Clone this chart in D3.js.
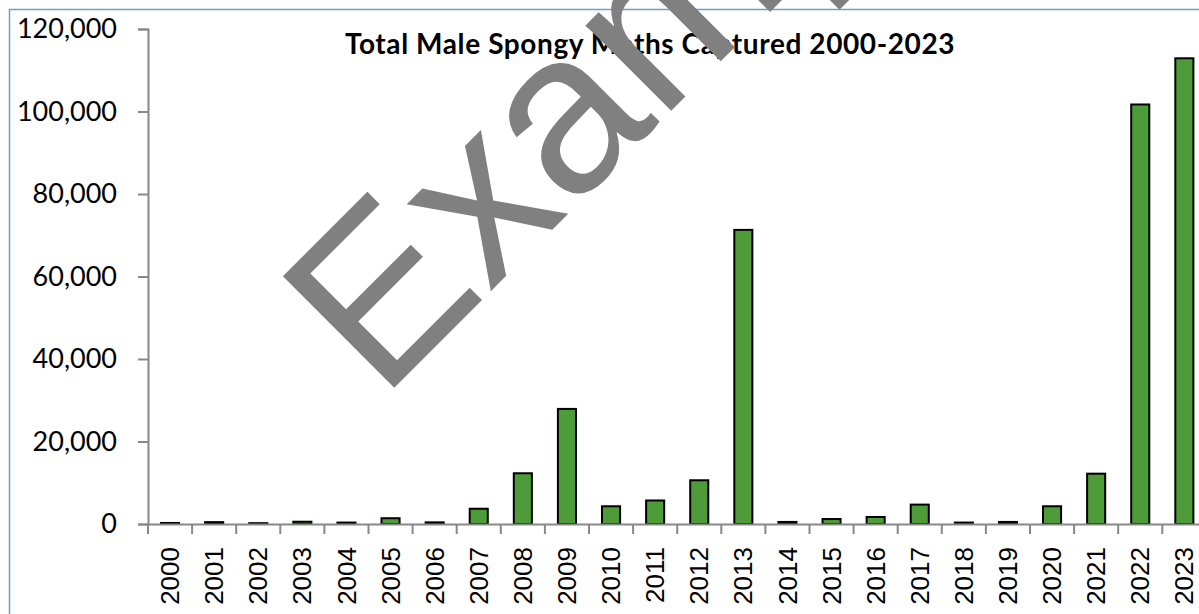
<!DOCTYPE html>
<html>
<head>
<meta charset="utf-8">
<script src="https://cdn.jsdelivr.net/npm/d3@7/dist/d3.min.js"></script>
<style>
  html, body { margin: 0; padding: 0; background: #ffffff; }
  svg { display: block; }
</style>
</head>
<body>
<svg id="chart" width="1199" height="614"></svg>
<script>
const years = ["2000","2001","2002","2003","2004","2005","2006","2007","2008","2009","2010","2011",
               "2012","2013","2014","2015","2016","2017","2018","2019","2020","2021","2022","2023"];
const captured = [250, 450, 200, 550, 350, 1400, 400, 3700, 12300, 27900, 4300, 5700,
                  10600, 71300, 500, 1200, 1700, 4700, 350, 500, 4300, 12200, 101700, 112900];
const yTicks = [0, 20000, 40000, 60000, 80000, 100000, 120000];
const titleText = "Total Male Spongy Moths Captured 2000-2023";
const watermarkText = "Example";

const svg = d3.select("#chart");

// chart area border (cropped chart frame)
svg.append("rect")
  .attr("x", 9.5).attr("y", 9.5)
  .attr("width", 1400).attr("height", 800)
  .attr("fill", "#ffffff")
  .attr("stroke", "#6f9bd3").attr("stroke-width", 1.5);

const x = d3.scaleBand().domain(years).range([148, 148 + 24 * 44.1]).paddingInner(0).paddingOuter(0);
const y = d3.scaleLinear().domain([0, 120000]).range([524, 29]);

// bars
const barW = x.bandwidth() * 0.41;
svg.append("g").selectAll("rect").data(years).join("rect")
  .attr("x", d => x(d) + x.bandwidth() / 2 - barW / 2)
  .attr("y", (d, i) => y(captured[i]))
  .attr("width", barW)
  .attr("height", (d, i) => y(0) - y(captured[i]))
  .attr("fill", "#4e9b3a")
  .attr("stroke", "#000000")
  .attr("stroke-width", 2);

// y axis
const yAxis = svg.append("g").attr("transform", "translate(148,0)")
  .call(d3.axisLeft(y).tickValues(yTicks).tickSize(10).tickPadding(21)
        .tickFormat(d3.format(",")));
yAxis.select(".domain").attr("stroke", "#888888").attr("stroke-width", 2);
yAxis.selectAll(".tick line").attr("stroke", "#888888").attr("stroke-width", 2);
yAxis.selectAll(".tick text")
  .attr("font-family", "Lato, 'Open Sans', sans-serif")
  .attr("font-size", 27)
  .attr("fill", "#000000");

// x axis
const xAxis = svg.append("g").attr("transform", "translate(0,524)")
  .call(d3.axisBottom(x).tickSize(0).tickPadding(0));
xAxis.select(".domain").attr("stroke", "#888888").attr("stroke-width", 2);
xAxis.selectAll(".tick line").remove();
xAxis.selectAll(".tick text")
  .attr("font-family", "'Liberation Sans', Arial, sans-serif")
  .attr("font-size", 26)
  .attr("fill", "#000000")
  .attr("text-anchor", "end")
  .attr("dy", "0.35em")
  .attr("transform", "translate(0,23) rotate(-90)")
  .attr("x", 0).attr("y", 0);
// category boundary ticks
svg.append("g").selectAll("line").data(d3.range(years.length + 1)).join("line")
  .attr("x1", i => 148 + i * x.step()).attr("x2", i => 148 + i * x.step())
  .attr("y1", 524).attr("y2", 534)
  .attr("stroke", "#888888").attr("stroke-width", 2);

// title
svg.append("text")
  .attr("x", 650).attr("y", 54)
  .attr("text-anchor", "middle")
  .attr("font-family", "Lato, 'Open Sans', sans-serif")
  .attr("font-weight", "bold")
  .attr("font-size", 28)
  .attr("letter-spacing", 0.6)
  .attr("fill", "#000000")
  .text(titleText);

// watermark
svg.append("text")
  .attr("transform", "translate(381,401) rotate(-45)")
  .attr("font-family", "'Liberation Sans', Arial, sans-serif")
  .attr("font-size", 229)
  .attr("fill", "#808080")
  .text(watermarkText);
</script>
</body>
</html>
